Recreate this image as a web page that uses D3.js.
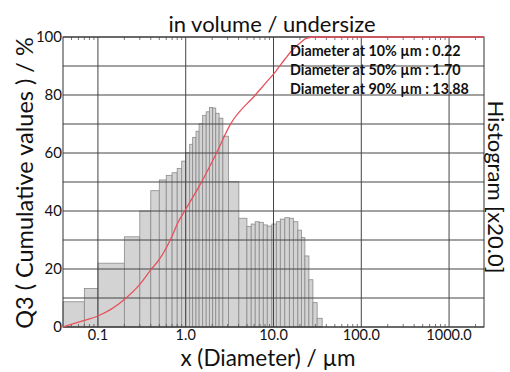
<!DOCTYPE html>
<html>
<head>
<meta charset="utf-8">
<script src="https://cdn.jsdelivr.net/npm/d3@7"></script>
<style>
  body { margin: 0; background: #fff; }
  text { font-family: Lato, "Open Sans", sans-serif; fill: #111; }
</style>
</head>
<body>
<div id="chart"></div>
<script>
// histogram bins (diameter edges, µm) and q3 values (%), drawn x20
const binEdges = [0.04, 0.07, 0.1, 0.2, 0.3, 0.4, 0.5, 0.6, 0.7, 0.8, 0.9, 1.0,
    1.11, 1.2, 1.31, 1.42, 1.56, 1.71, 1.86, 2.03, 2.2, 2.4, 2.65, 3.07,
    4.03, 4.98, 5.57, 6.19, 6.88, 7.65, 8.49, 9.57, 10.77, 11.96, 13.46, 15.16,
    16.84, 18.95, 20.78, 22.79, 25.32, 28.12, 31.42, 35.83];
const histValues = [0.435, 0.665, 1.10, 1.555, 2.00, 2.35, 2.535, 2.615, 2.66, 2.735, 2.86,
    3.005, 3.15, 3.27, 3.375, 3.505, 3.65, 3.71, 3.785, 3.775, 3.685, 3.60, 3.29,
    2.505,
    1.875, 1.735, 1.775, 1.815, 1.805, 1.76, 1.74, 1.775, 1.815, 1.86, 1.885, 1.875,
    1.815, 1.67, 1.54, 1.225, 0.815, 0.42, 0.15];
const histFactor = 20;

// cumulative undersize curve Q3
const cumSizes = [0.04, 0.07, 0.1, 0.2, 0.3, 0.4, 0.5, 0.7, 0.8, 1.0, 1.5, 2.25, 3.2, 6.2,
    8.08, 10.5, 13.6, 16.4, 20.2, 23.6, 30.0, 2500];
const cumValues = [0, 2.3, 3.8, 9.5, 14.7, 19.7, 23.3, 31.4, 35.5, 40.6, 49.8, 60.1, 69.7, 80,
    84, 88, 92.5, 95.5, 98, 99.5, 100, 100];

const yTicks = [0, 20, 40, 60, 80, 100];
const xTicks = [0.1, 1, 10, 100, 1000];
const xTickLabels = ["0.1", "1.0", "10.0", "100.0", "1000.0"];
const notes = ["Diameter at 10% µm : 0.22", "Diameter at 50% µm : 1.70", "Diameter at 90% µm : 13.88"];

function init() {
    const w = 510;
    const h = 372;
    const margin = {top: 37, right: 26, bottom: 45, left: 63};

    var svg = d3.select("#chart")
        .append("svg")
        .attr("width", w)
        .attr("height", h);

    var x = d3.scaleLog()
        .domain([0.04, 2500])
        .range([margin.left, w - margin.right]);

    var y = d3.scaleLinear()
        .domain([0, 100])
        .range([h - margin.bottom, margin.top]);

    let bins = [];
    for (let i = 0; i < histValues.length; i++) {
        bins.push({x0: binEdges[i], x1: binEdges[i + 1], v: histValues[i] * histFactor});
    }

    svg.selectAll("rect.bar")
        .data(bins)
        .enter()
        .append("rect")
        .attr("class", "bar")
        .attr("x", d => x(d.x0))
        .attr("y", d => y(d.v))
        .attr("width", d => x(d.x1) - x(d.x0))
        .attr("height", d => y(0) - y(d.v))
        .attr("fill", "#d3d3d3")
        .attr("stroke", "#8a8a8a")
        .attr("stroke-width", 0.8);

    // grid
    svg.append("g")
        .selectAll("line")
        .data(d3.range(0, 101, 10))
        .enter()
        .append("line")
        .attr("x1", x.range()[0]).attr("x2", x.range()[1])
        .attr("y1", d => y(d)).attr("y2", d => y(d))
        .attr("stroke", "#444").attr("stroke-width", 1);

    svg.append("g")
        .selectAll("line")
        .data(xTicks)
        .enter()
        .append("line")
        .attr("x1", d => x(d)).attr("x2", d => x(d))
        .attr("y1", y(0)).attr("y2", y(100))
        .attr("stroke", "#444").attr("stroke-width", 1);

    // minor ticks top and bottom
    let minor = [];
    for (let p = -2; p <= 3; p++) {
        for (let k = 2; k <= 9; k++) {
            let v = k * Math.pow(10, p);
            if (v > 0.04 && v < 2500) minor.push(v);
        }
    }
    [y(0), y(100)].forEach(function (yy, i) {
        svg.append("g")
            .selectAll("line")
            .data(minor)
            .enter()
            .append("line")
            .attr("x1", d => x(d)).attr("x2", d => x(d))
            .attr("y1", yy).attr("y2", i === 0 ? yy - 3 : yy + 3)
            .attr("stroke", "#555").attr("stroke-width", 0.8);
    });

    svg.append("rect")
        .attr("x", x.range()[0])
        .attr("y", y(100))
        .attr("width", x.range()[1] - x.range()[0])
        .attr("height", y(0) - y(100))
        .attr("fill", "none")
        .attr("stroke", "#333")
        .attr("stroke-width", 1);

    var line = d3.line()
        .x(d => x(d[0]))
        .y(d => y(d[1]))
        .curve(d3.curveMonotoneX);

    svg.append("path")
        .datum(d3.zip(cumSizes, cumValues))
        .attr("d", line)
        .attr("fill", "none")
        .attr("stroke", "#e8505b")
        .attr("stroke-width", 1.3);

    // tick labels
    svg.append("g")
        .selectAll("text")
        .data(yTicks)
        .enter()
        .append("text")
        .attr("x", margin.left - 1)
        .attr("y", d => y(d) + 5)
        .attr("text-anchor", "end")
        .attr("font-size", 15)
        .text(d => d);

    svg.append("g")
        .selectAll("text")
        .data(xTicks)
        .enter()
        .append("text")
        .attr("x", d => x(d))
        .attr("y", y(0) + 13)
        .attr("text-anchor", "middle")
        .attr("font-size", 14.5)
        .text((d, i) => xTickLabels[i]);

    // titles
    svg.append("text")
        .attr("x", 272).attr("y", 32)
        .attr("text-anchor", "middle")
        .attr("font-size", 22)
        .text("in volume / undersize");

    svg.append("text")
        .attr("x", 268).attr("y", 366)
        .attr("text-anchor", "middle")
        .attr("font-size", 22.5)
        .text("x (Diameter) / µm");

    svg.append("text")
        .attr("transform", "translate(33,183) rotate(-90)")
        .attr("text-anchor", "middle")
        .attr("font-size", 23.5)
        .text("Q3 ( Cumulative values ) / %");

    svg.append("text")
        .attr("transform", "translate(488,187) rotate(90)")
        .attr("text-anchor", "middle")
        .attr("font-size", 22)
        .text("Histogram [x20.0]");

    svg.append("g")
        .selectAll("text")
        .data(notes)
        .enter()
        .append("text")
        .attr("x", 290)
        .attr("y", (d, i) => 56 + i * 19)
        .attr("font-size", 14.3)
        .attr("font-weight", "bold")
        .text(d => d);
}

window.onload = init;
</script>
</body>
</html>
